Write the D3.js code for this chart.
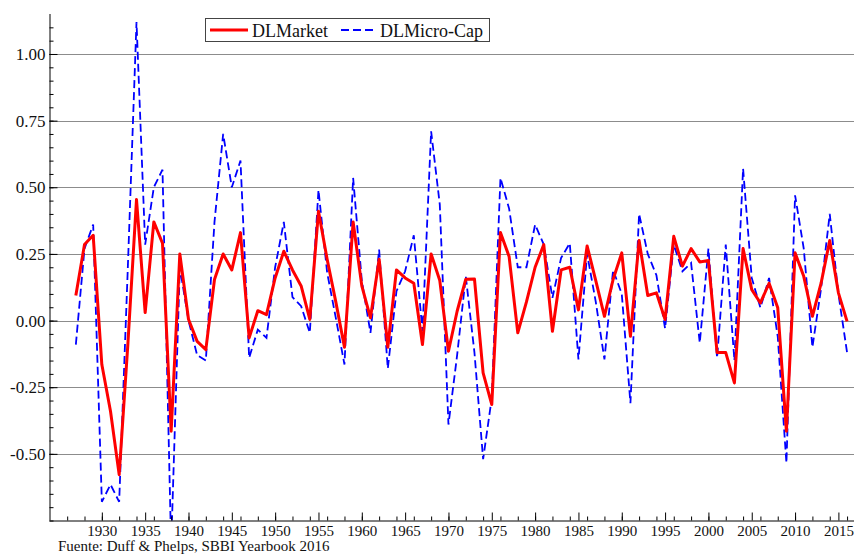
<!DOCTYPE html>
<html>
<head>
<meta charset="utf-8">
<script src="https://cdn.jsdelivr.net/npm/d3@7"></script>
<style>
  body { margin: 0; background: #fff; }
  svg { display: block; font-family: "Liberation Serif", "DejaVu Serif", serif; }
  .axis path, .axis line { stroke: #000; }
  .axis text { font-family: "Liberation Serif", serif; fill: #111; }
</style>
</head>
<body>
<svg id="chart" width="854" height="554"></svg>
<script>
const years = d3.range(1927, 2017);

// DL Market (log returns)
const market = [
  0.094, 0.285, 0.32, -0.165, -0.34, -0.578, -0.09, 0.454, 0.03, 0.37,
  0.29, -0.415, 0.25, 0.005, -0.078, -0.109, 0.154, 0.25, 0.19, 0.33,
  -0.065, 0.037, 0.022, 0.16, 0.26, 0.19, 0.13, 0.004, 0.41, 0.23,
  0.07, -0.10, 0.37, 0.13, 0.01, 0.23, -0.10, 0.19, 0.16, 0.14,
  -0.09, 0.25, 0.15, -0.115, 0.035, 0.155, 0.156, -0.196, -0.315, 0.33,
  0.24, -0.046, 0.07, 0.20, 0.285, -0.04, 0.19, 0.20, 0.04, 0.28,
  0.15, 0.016, 0.154, 0.254, -0.059, 0.30, 0.094, 0.104, 0.004, 0.316,
  0.204, 0.27, 0.22, 0.225, -0.12, -0.12, -0.234, 0.27, 0.116, 0.066,
  0.14, 0.048, -0.415, 0.254, 0.166, 0.016, 0.14, 0.30, 0.104, -0.003
];

// DL Micro-Cap (log returns)
const microCap = [
  -0.09, 0.27, 0.36, -0.68, -0.615, -0.68, 0.20, 1.12, 0.285, 0.50,
  0.566, -0.85, 0.20, 0.0, -0.13, -0.15, 0.37, 0.70, 0.50, 0.60,
  -0.14, -0.034, -0.065, 0.20, 0.37, 0.088, 0.054, -0.046, 0.49, 0.18,
  0.01, -0.165, 0.535, 0.15, -0.046, 0.266, -0.18, 0.11, 0.185, 0.32,
  -0.04, 0.71, 0.435, -0.39, -0.13, 0.166, -0.12, -0.52, -0.29, 0.535,
  0.42, 0.20, 0.20, 0.36, 0.285, 0.085, 0.235, 0.29, -0.146, 0.25,
  0.07, -0.146, 0.19, 0.10, -0.31, 0.40, 0.25, 0.17, -0.03, 0.285,
  0.185, 0.216, -0.084, 0.27, -0.14, 0.285, -0.15, 0.57, 0.16, 0.048,
  0.16, -0.06, -0.534, 0.47, 0.27, -0.10, 0.12, 0.40, 0.10, -0.12
];

const yTicks = [-0.5, -0.25, 0, 0.25, 0.5, 0.75, 1.0];
const xTicks = d3.range(1930, 2016, 5);
const seriesNames = ["DLMarket", "DLMicro-Cap"];
const source = "Fuente: Duff & Phelps, SBBI Yearbook 2016";

const svg = d3.select("#chart");
const m = { left: 49.5, right: 854, top: 14, bottom: 520.5 };

const x = d3.scaleLinear().domain([1923.96, 2016.8]).range([m.left, m.right]);
const y = d3.scaleLinear().domain([-0.75, 1.15]).range([m.bottom, m.top]);

// gridlines
svg.append("g")
  .selectAll("line")
  .data(yTicks)
  .join("line")
  .attr("x1", m.left).attr("x2", m.right)
  .attr("y1", d => Math.round(y(d)) + 0.5)
  .attr("y2", d => Math.round(y(d)) + 0.5)
  .attr("stroke", "#8c8c8c")
  .attr("stroke-width", 1.2);

svg.append("clipPath").attr("id", "clip")
  .append("rect")
  .attr("x", m.left).attr("y", m.top)
  .attr("width", m.right - m.left).attr("height", m.bottom - m.top);

const plot = svg.append("g").attr("clip-path", "url(#clip)");

const line = d3.line().x((d, i) => x(years[i])).y(d => y(d));

plot.append("path")
  .datum(microCap)
  .attr("d", line)
  .attr("fill", "none")
  .attr("stroke", "#0000ff")
  .attr("stroke-width", 1.8)
  .attr("stroke-dasharray", "8,4");

plot.append("path")
  .datum(market)
  .attr("d", line)
  .attr("fill", "none")
  .attr("stroke", "#ff0000")
  .attr("stroke-width", 3)
  .attr("stroke-linejoin", "round");

// y axis: major + minor ticks pointing inward
const yAxis = svg.append("g")
  .attr("class", "axis")
  .attr("transform", `translate(${m.left},0)`)
  .call(d3.axisLeft(y).tickValues(yTicks)
    .tickSizeInner(-8).tickSizeOuter(0).tickPadding(5)
    .tickFormat(d => d.toFixed(2)));
yAxis.select(".domain").attr("d", `M0.5,${m.top}V${m.bottom}`);
yAxis.selectAll("text").attr("x", -4).attr("font-size", 17);

svg.append("g")
  .attr("class", "axis")
  .attr("transform", `translate(${m.left},0)`)
  .call(d3.axisLeft(y).tickValues(d3.range(-0.75, 1.15, 0.05).map(v => +v.toFixed(2)))
    .tickSizeInner(-4).tickSizeOuter(0).tickFormat(""))
  .select(".domain").remove();

// x axis
const xAxis = svg.append("g")
  .attr("class", "axis")
  .attr("transform", `translate(0,${m.bottom})`)
  .call(d3.axisBottom(x).tickValues(xTicks)
    .tickSizeInner(-8).tickSizeOuter(0).tickPadding(5)
    .tickFormat(d3.format("d")));
xAxis.select(".domain").attr("d", `M${m.left},0.5H${m.right}`);
xAxis.selectAll("text").attr("font-size", 15);

svg.append("g")
  .attr("class", "axis")
  .attr("transform", `translate(0,${m.bottom})`)
  .call(d3.axisBottom(x).tickValues(d3.range(1926, 2017, 2))
    .tickSizeInner(-4).tickSizeOuter(0).tickFormat(""))
  .select(".domain").remove();

// legend
const legend = svg.append("g");
legend.append("rect")
  .attr("x", 205.5).attr("y", 18.5)
  .attr("width", 284).attr("height", 23)
  .attr("fill", "#fff").attr("stroke", "#444");
legend.append("line")
  .attr("x1", 210).attr("x2", 248).attr("y1", 30).attr("y2", 30)
  .attr("stroke", "#ff0000").attr("stroke-width", 3);
legend.append("text")
  .attr("x", 252).attr("y", 36.5)
  .attr("font-size", 18).attr("fill", "#111")
  .text(seriesNames[0]);
legend.append("line")
  .attr("x1", 341).attr("x2", 377).attr("y1", 30).attr("y2", 30)
  .attr("stroke", "#0000ff").attr("stroke-width", 1.8)
  .attr("stroke-dasharray", "8,4");
legend.append("text")
  .attr("x", 380).attr("y", 36.5)
  .attr("font-size", 18).attr("fill", "#111")
  .text(seriesNames[1]);

svg.append("text")
  .attr("x", 58).attr("y", 550.5)
  .attr("font-size", 15).attr("fill", "#111")
  .text(source);
</script>
</body>
</html>
